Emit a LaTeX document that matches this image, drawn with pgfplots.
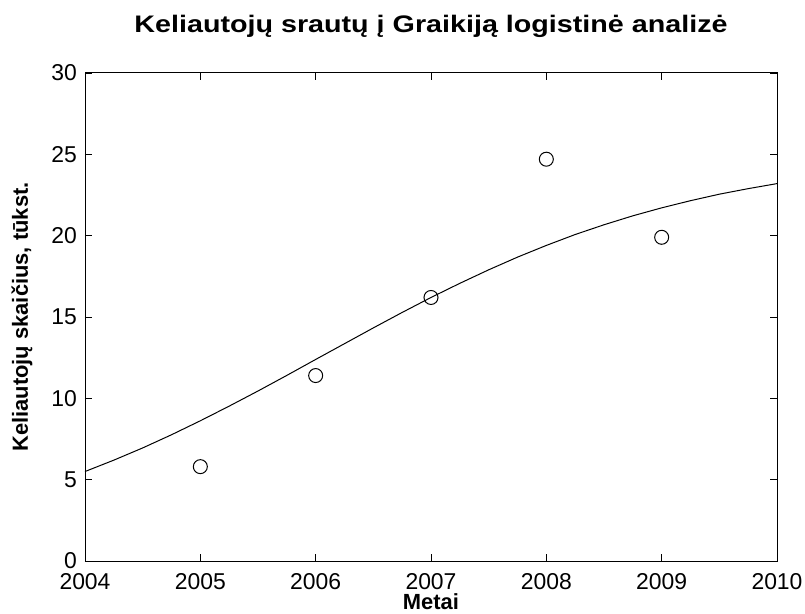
\documentclass[border=0pt]{standalone}
\usepackage{pgfplots}
\pgfplotsset{compat=1.18}
\usepackage{fontspec}
\setmainfont{Liberation Sans}
\begin{document}
\begin{tikzpicture}
\path[use as bounding box] (-85bp,-53bp) rectangle (720bp,561bp);
\begin{axis}[
  at={(0,0)}, anchor=south west,
  scale only axis, width=692bp, height=488bp,
  xmin=2004, xmax=2010, ymin=0, ymax=30,
  xtick={2004,2005,2006,2007,2008,2009,2010},
  ytick={0,5,10,15,20,25,30},
  tick align=inside, major tick length=7bp,
  /pgf/number format/1000 sep={},
  /pgf/number format/assume math mode=true,
  tick label style={font=\fontsize{23}{26}\selectfont, inner sep=0pt},
  xticklabel style={anchor=north, yshift=-12bp},
  yticklabel style={anchor=east, xshift=-8bp},
  title={\scalebox{1.2}[1]{\textbf{Keliautojų srautų į Graikiją logistinė analizė}}},
  title style={font=\fontsize{24}{28}\selectfont, at={(axis description cs:0.5,1.0717)}, anchor=base, inner sep=0pt},
  xlabel={\textbf{Metai}},
  ylabel={\textbf{Keliautojų skaičius, tūkst.}},
  label style={font=\fontsize{22}{26}\selectfont, inner sep=0pt},
  xlabel style={at={(axis description cs:0.5,-0.099)}, anchor=base},
  ylabel style={at={(axis description cs:-0.0824,0.5)}, anchor=base},
  axis line style={line width=1pt},
  every tick/.style={black, line width=0.8pt},
]
\addplot[black, line width=1pt, mark=none] coordinates {
(2004,5.50) (2004.25,6.20) (2004.5,6.95) (2004.75,7.76) (2005,8.62)
(2005.25,9.52) (2005.5,10.45) (2005.75,11.41) (2006,12.39)
(2006.25,13.36) (2006.5,14.33) (2006.75,15.28) (2007,16.20)
(2007.25,17.07) (2007.5,17.90) (2007.75,18.68) (2008,19.40)
(2008.25,20.07) (2008.5,20.67) (2008.75,21.22) (2009,21.71)
(2009.25,22.15) (2009.5,22.55) (2009.75,22.89) (2010,23.20)
};
\addplot[black, only marks, mark=o, mark size=7bp, line width=1pt] coordinates {
(2005,5.8) (2006,11.4) (2007,16.2) (2008,24.7) (2009,19.9)
};
\end{axis}
\end{tikzpicture}
\end{document}
